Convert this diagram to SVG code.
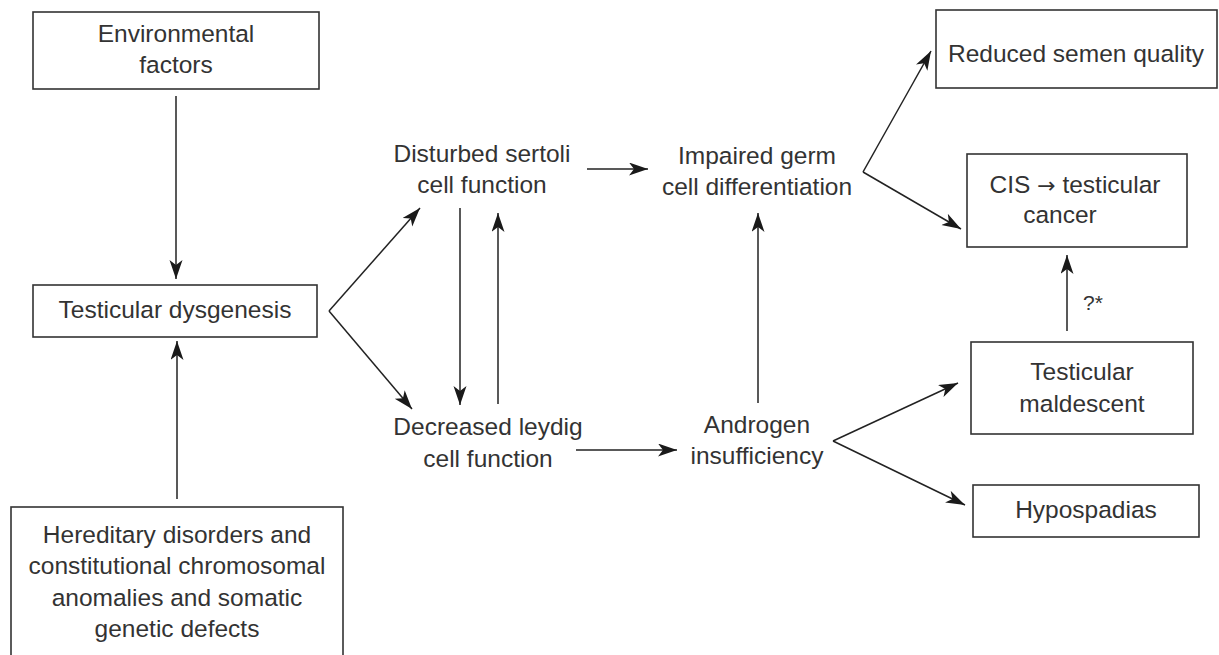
<svg xmlns="http://www.w3.org/2000/svg" width="1219" height="655" viewBox="0 0 1219 655">
<defs>
<marker id="ah" markerUnits="userSpaceOnUse" markerWidth="20" markerHeight="14" refX="19" refY="6.5" orient="auto">
<path d="M0,0 L19,6.5 L0,13 L5,6.5 z" fill="#1a1a1a"/>
</marker>
</defs>
<style>
.box{fill:#fff;stroke:#333;stroke-width:1.6}
.t{font-family:"Liberation Sans",Arial,sans-serif;font-size:24.5px;fill:#333;text-anchor:middle}
.c{fill:none;stroke:#222;stroke-width:1.5}
.a{marker-end:url(#ah)}
</style>
<rect width="1219" height="655" fill="#fff"/>
<g id="connectors">
<line class="c a" x1="176" y1="96" x2="176" y2="279"/>
<line class="c a" x1="177" y1="499" x2="177" y2="341"/>
<line class="c a" x1="329" y1="311" x2="420" y2="208"/>
<line class="c a" x1="329" y1="311" x2="412" y2="409"/>
<line class="c a" x1="460" y1="208" x2="460" y2="405"/>
<line class="c a" x1="498" y1="404" x2="498" y2="213"/>
<line class="c a" x1="587" y1="169" x2="648" y2="169"/>
<line class="c a" x1="576" y1="450" x2="677" y2="450"/>
<line class="c a" x1="758" y1="403" x2="758" y2="213"/>
<line class="c a" x1="863" y1="172" x2="931" y2="51"/>
<line class="c a" x1="863" y1="172" x2="961" y2="229"/>
<line class="c a" x1="833" y1="441" x2="958" y2="383"/>
<line class="c a" x1="833" y1="441" x2="965" y2="505"/>
<line class="c a" x1="1067" y1="331" x2="1067" y2="255"/>
<text class="t" x="1083" y="310" style="text-anchor:start;font-size:21px">?*</text>
</g>
<g id="env">
<rect class="box" x="33" y="12" width="286" height="77"/>
<text class="t" x="176" y="42">Environmental</text>
<text class="t" x="176" y="73">factors</text>
</g>
<g id="dysgenesis">
<rect class="box" x="33" y="285" width="284" height="52"/>
<text class="t" x="175" y="318">Testicular dysgenesis</text>
</g>
<g id="hereditary">
<rect class="box" x="11" y="507" width="332" height="170"/>
<text class="t" x="177" y="543">Hereditary disorders and</text>
<text class="t" x="177" y="574">constitutional chromosomal</text>
<text class="t" x="177" y="606">anomalies and somatic</text>
<text class="t" x="177" y="637">genetic defects</text>
</g>
<g id="sertoli">
<text class="t" x="482" y="162">Disturbed sertoli</text>
<text class="t" x="482" y="193">cell function</text>
</g>
<g id="leydig">
<text class="t" x="488" y="435">Decreased leydig</text>
<text class="t" x="488" y="467">cell function</text>
</g>
<g id="germ">
<text class="t" x="757" y="164">Impaired germ</text>
<text class="t" x="757" y="195">cell differentiation</text>
</g>
<g id="androgen">
<text class="t" x="757" y="433">Androgen</text>
<text class="t" x="757" y="464">insufficiency</text>
</g>
<g id="semen">
<rect class="box" x="936" y="10" width="281" height="78"/>
<text class="t" x="1076" y="62">Reduced semen quality</text>
</g>
<g id="cis">
<rect class="box" x="967" y="154" width="220" height="93"/>
<text class="t" x="1075" y="193">CIS <tspan style="font-family:'DejaVu Sans',sans-serif;font-size:22px">→</tspan> testicular</text>
<text class="t" x="1060" y="223">cancer</text>
</g>
<g id="maldescent">
<rect class="box" x="971" y="342" width="222" height="92"/>
<text class="t" x="1082" y="380">Testicular</text>
<text class="t" x="1082" y="412">maldescent</text>
</g>
<g id="hypospadias">
<rect class="box" x="973" y="485" width="226" height="52"/>
<text class="t" x="1086" y="518">Hypospadias</text>
</g>
</svg>
